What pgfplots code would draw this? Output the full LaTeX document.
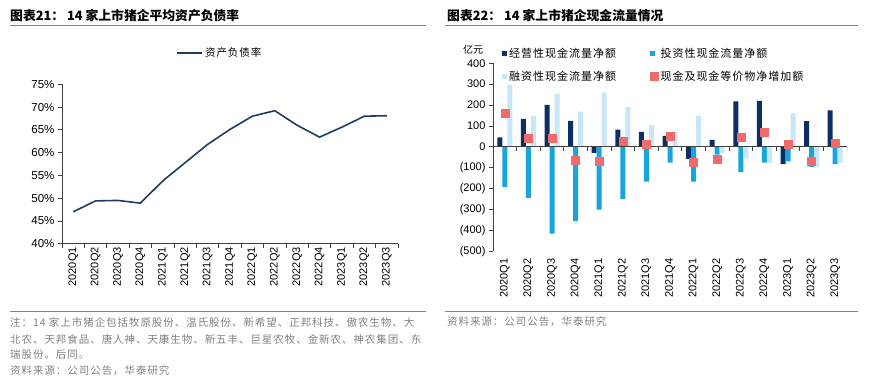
\documentclass[border=0pt]{standalone}
\usepackage{fontspec}
\usepackage{pgfplots}
\pgfplotsset{compat=1.18}
\setmainfont{Liberation Sans}
\newfontfamily\cjk{Noto Sans CJK SC}
\newfontfamily\cjksp[LetterSpace=9]{Noto Sans CJK SC}
\definecolor{navy}{HTML}{0B2F63}
\definecolor{cyanb}{HTML}{17A5DE}
\definecolor{lightb}{HTML}{C6E7F6}
\definecolor{redm}{HTML}{F26A6A}
\definecolor{linec}{HTML}{1F3B61}
\definecolor{rulec}{HTML}{6A8AA6}
\definecolor{notec}{HTML}{808080}
\definecolor{axc}{HTML}{404040}
\begin{document}
\begin{tikzpicture}[x=1pt,y=1pt]
\useasboundingbox (0pt,0pt) rectangle (877pt,-385pt);
% titles and rules
\node[anchor=west,inner sep=0,font=\fontsize{12.8}{14}\cjk\bfseries] at (10pt,-16pt) {图表21： 14 家上市猪企平均资产负债率};
\node[anchor=west,inner sep=0,font=\fontsize{12.8}{14}\cjk\bfseries] at (447pt,-16pt) {图表22： 14 家上市猪企现金流量情况};
\draw[rulec, line width=1pt] (10pt,-26pt) -- (426pt,-26pt);
\draw[rulec, line width=1pt] (445pt,-26pt) -- (858pt,-26pt);
\draw[rulec, line width=1pt] (10pt,-311pt) -- (426pt,-311pt);
\draw[rulec, line width=1pt] (445pt,-311pt) -- (858pt,-311pt);
% notes
\begin{scope}[every node/.style={anchor=west,inner sep=0,text=notec,font=\fontsize{10.5}{12}\cjksp}]
\node at (10pt,-322pt) {注：14 家上市猪企包括牧原股份、温氏股份、新希望、正邦科技、傲农生物、大};
\node at (10pt,-339pt) {北农、天邦食品、唐人神、天康生物、新五丰、巨星农牧、金新农、神农集团、东};
\node at (10pt,-355pt) {瑞股份。后同。};
\node at (10pt,-371pt) {资料来源：公司公告，华泰研究};
\node at (447pt,-322pt) {资料来源：公司公告，华泰研究};
\end{scope}
\node[inner sep=0,font=\fontsize{10}{12}\cjk] at (473pt,-50pt) {亿元};

% left chart
\begin{axis}[
  at={(62pt,-243.7pt)}, anchor=south west, scale only axis,
  width=336pt, height=159.4pt,
  xmin=-0.5, xmax=14.5, ymin=40, ymax=75,
  axis x line*=bottom, axis y line*=left,
  axis line style={axc, line width=0.8pt},
  tick style={axc, line width=0.8pt},
  tick align=outside, major tick length=4pt,
  ytick={40,45,...,75},
  yticklabel={\pgfmathprintnumber{\tick}\%},
  yticklabel style={font=\fontsize{11.5}{13}\selectfont},
  /pgf/number format/assume math mode=true,
  xtick={-0.5,0.5,...,14.5}, xticklabels={},
  extra x ticks={0,...,14},
  extra x tick labels={2020Q1,2020Q2,2020Q3,2020Q4,2021Q1,2021Q2,2021Q3,2021Q4,2022Q1,2022Q2,2022Q3,2022Q4,2023Q1,2023Q2,2023Q3},
  extra x tick style={major tick length=0pt, xticklabel style={rotate=90, anchor=east, font=\fontsize{11}{13}\selectfont}},
  legend style={at={(0.47,1.196)}, anchor=center, draw=none, fill=none, font=\fontsize{10.5}{12}\cjksp},
  legend image code/.code={\draw[#1] (0pt,0pt) -- (25pt,0pt);},
]
\addplot[linec, line width=1.6pt, mark=none] coordinates {
(0,47.0) (1,49.4) (2,49.5) (3,48.9) (4,53.8) (5,57.8) (6,61.8) (7,65.1)
(8,68.0) (9,69.2) (10,66.0) (11,63.4) (12,65.6) (13,68.0) (14,68.1)};
\addlegendentry{资产负债率}
\end{axis}

% right chart
\begin{axis}[
  at={(493pt,-251.3pt)}, anchor=south west, scale only axis,
  width=354pt, height=188pt,
  xmin=-0.5, xmax=14.5, ymin=-500, ymax=400,
  axis x line*=bottom, axis y line*=left,
  x axis line style={draw=none},
  y axis line style={axc, line width=0.8pt},
  ytick style={axc, line width=0.8pt},
  xtick style={draw=none},
  tick align=outside, major tick length=4pt,
  ytick={-500,-400,...,400},
  yticklabels={(500),(400),(300),(200),(100),0,100,200,300,400},
  yticklabel style={font=\fontsize{11}{13}\selectfont},
  xtick={0,...,14},
  xticklabels={2020Q1,2020Q2,2020Q3,2020Q4,2021Q1,2021Q2,2021Q3,2021Q4,2022Q1,2022Q2,2022Q3,2022Q4,2023Q1,2023Q2,2023Q3},
  xticklabel style={rotate=90, anchor=east, font=\fontsize{11}{13}\selectfont},
  bar width=5pt,
  legend columns=2,
  legend cell align=left,
  legend style={at={(0.017,1.103)}, anchor=north west, draw=none, fill=none,
    font=\fontsize{11}{13}\cjksp, row sep=8pt,
    /tikz/every even column/.append style={column sep=32pt}},
]
\addplot[ybar, fill=navy, draw=none, bar shift=-5pt,
  legend image code/.code={\fill[navy] (0pt,-2.5pt) rectangle (5pt,2.5pt);}] coordinates {
(0,46) (1,134) (2,201) (3,124) (4,-29) (5,83) (6,72) (7,53)
(8,-57) (9,33) (10,218) (11,220) (12,-83) (13,123) (14,175)};
\addlegendentry{经营性现金流量净额}
\addplot[ybar, fill=cyanb, draw=none, bar shift=0pt,
  legend image code/.code={\fill[cyanb] (0pt,-2.5pt) rectangle (5pt,2.5pt);}] coordinates {
(0,-191) (1,-244) (2,-415) (3,-356) (4,-300) (5,-250) (6,-167) (7,-75)
(8,-167) (9,-37) (10,-121) (11,-75) (12,-69) (13,-96) (14,-83)};
\addlegendentry{投资性现金流量净额}
\addplot[ybar, fill=lightb, draw=none, bar shift=5pt,
  legend image code/.code={\fill[lightb] (0pt,-2.5pt) rectangle (5pt,2.5pt);}] coordinates {
(0,298) (1,147) (2,255) (3,169) (4,261) (5,191) (6,104) (7,70)
(8,150) (9,-29) (10,-56) (11,-77) (12,160) (13,-99) (14,-77)};
\addlegendentry{融资性现金流量净额}
\draw[axc, line width=0.8pt] (axis cs:-0.5,0) -- (axis cs:14.5,0);
\pgfplotsinvokeforeach{-0.5,0.5,...,14.5}{\draw[axc, line width=0.8pt] (axis cs:#1,0) -- ++(0pt,-4pt);}
\addplot[only marks, mark=square*, mark size=4pt, color=redm,
  legend image code/.code={\fill[redm] (0pt,-4pt) rectangle (8pt,4pt);}] coordinates {
(0,161) (1,41) (2,43) (3,-64) (4,-69) (5,29) (6,11) (7,53)
(8,-73) (9,-57) (10,45) (11,69) (12,14) (13,-67) (14,16)};
\addlegendentry{现金及现金等价物净增加额}
\end{axis}
\end{tikzpicture}
\end{document}
